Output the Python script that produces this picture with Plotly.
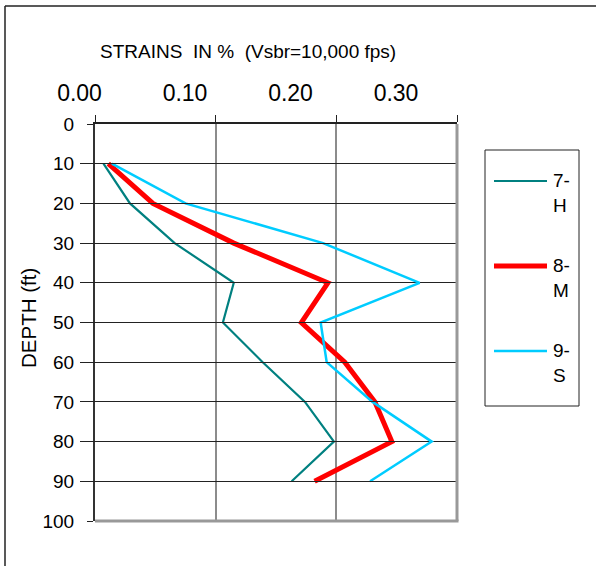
import plotly.graph_objects as go

depth = [10, 20, 30, 40, 50, 60, 70, 80, 90]
strain_7H = [0.007, 0.029, 0.066, 0.115, 0.106, 0.139, 0.174, 0.198, 0.163]
strain_8M = [0.011, 0.048, 0.115, 0.193, 0.171, 0.207, 0.232, 0.246, 0.182]
strain_9S = [0.014, 0.075, 0.189, 0.269, 0.187, 0.192, 0.230, 0.279, 0.228]

series_names = ["7-<br>H", "8-<br>M", "9-<br>S"]
series_colors = ["#008080", "#ff0000", "#00ccff"]
series_widths = [2.2, 5, 2.5]

x_ticks = [0.0, 0.1, 0.2, 0.3]
y_ticks = [0, 10, 20, 30, 40, 50, 60, 70, 80, 90, 100]

FONT = "Arial, Liberation Sans, sans-serif"

# paper plot area in pixels (data area starts at X0)
L, R, T, B = 60, 457, 124, 521
X0 = 95
LAB0, LAB1 = 79.5, 396  # where the source draws the 0.00 / 0.30 labels
def px(xp):
    return (xp - L) / (R - L)
def py(yp):
    return (B - yp) / (B - T)

fig = go.Figure()
# invisible helper so the label axis is drawn (added first so data sits on top)
fig.add_trace(go.Scatter(x=[None], y=[None], xaxis="x2", yaxis="y", showlegend=False,
                         hoverinfo="skip"))
for vals, nm, col, w in zip([strain_7H, strain_8M, strain_9S], series_names, series_colors, series_widths):
    fig.add_trace(go.Scatter(x=vals, y=depth, mode="lines", name=nm.replace("<br>", ""),
                             line=dict(color=col, width=w), showlegend=False))

shapes = [
    dict(type="line", xref="paper", yref="paper", x0=px(X0), x1=px(R + 1.5), y0=0, y1=0,
         line=dict(color="#999", width=3), layer="above"),
    dict(type="line", xref="paper", yref="paper", x0=1.0, x1=1.0, y0=0, y1=1,
         line=dict(color="#999", width=3), layer="above"),
    dict(type="line", xref="paper", yref="paper", x0=px(5), x1=px(620), y0=py(6), y1=py(6),
         line=dict(color="#222", width=1.5)),
    dict(type="line", xref="paper", yref="paper", x0=px(5), x1=px(5), y0=py(6), y1=py(600),
         line=dict(color="#222", width=1.5)),
    # legend box
    dict(type="rect", xref="paper", yref="paper", x0=px(485), x1=px(579), y0=py(150), y1=py(406),
         line=dict(color="#222", width=1), fillcolor="white", layer="above"),
]
annotations = [
    dict(text="STRAINS\u00a0\u00a0IN %\u00a0\u00a0(Vsbr=10,000 fps)", x=px(248), y=py(51),
         xref="paper", yref="paper", xanchor="center", yanchor="middle",
         showarrow=False, font=dict(size=19)),
    dict(text="DEPTH (ft)", x=px(28), y=py(318), xref="paper", yref="paper",
         xanchor="center", yanchor="middle",
         showarrow=False, textangle=-90, font=dict(size=20.5)),
]
legend_y = [181, 266, 351]
for nm, col, w, ly in zip(series_names, series_colors, series_widths, legend_y):
    shapes.append(dict(type="line", xref="paper", yref="paper", x0=px(494), x1=px(547),
                       y0=py(ly), y1=py(ly), line=dict(color=col, width=w), layer="above"))
    annotations.append(dict(text=nm, x=px(551), y=py(ly - 13), xref="paper", yref="paper",
                            xanchor="left", yanchor="top", align="left", showarrow=False,
                            font=dict(size=19)))

fig.update_layout(
    width=596, height=566,
    margin=dict(l=L, r=596 - R, t=T, b=566 - B),
    paper_bgcolor="white", plot_bgcolor="rgba(0,0,0,0)",
    font=dict(family=FONT, color="black"),
    showlegend=False,
    xaxis=dict(side="top", domain=[px(X0), 1], range=[0, 0.3], tickvals=x_ticks,
               showticklabels=False, ticks="outside", ticklen=7, tickcolor="#222",
               showgrid=True, gridcolor="#8c8c8c", gridwidth=2,
               showline=True, linecolor="#222", linewidth=1.5, zeroline=False),
    xaxis2=dict(side="top", anchor="y", domain=[px(LAB0), px(LAB1)], range=[0, 0.3],
                tickvals=x_ticks, tickformat=".2f", tickfont=dict(size=23),
                ticks="outside", ticklen=7, tickcolor="rgba(0,0,0,0)",
                ticklabelstandoff=6, showgrid=False, showline=False, zeroline=False,
                fixedrange=True),
    yaxis=dict(range=[100, 0], tickvals=y_ticks, tickfont=dict(size=19), anchor="x",
               ticks="outside", ticklen=6, tickcolor="#222", ticklabelstandoff=9,
               showgrid=True, gridcolor="#222", gridwidth=1.3,
               showline=True, linecolor="#333", linewidth=2.2, zeroline=False),
    annotations=annotations,
    shapes=shapes,
)

fig.write_html("out.html")
